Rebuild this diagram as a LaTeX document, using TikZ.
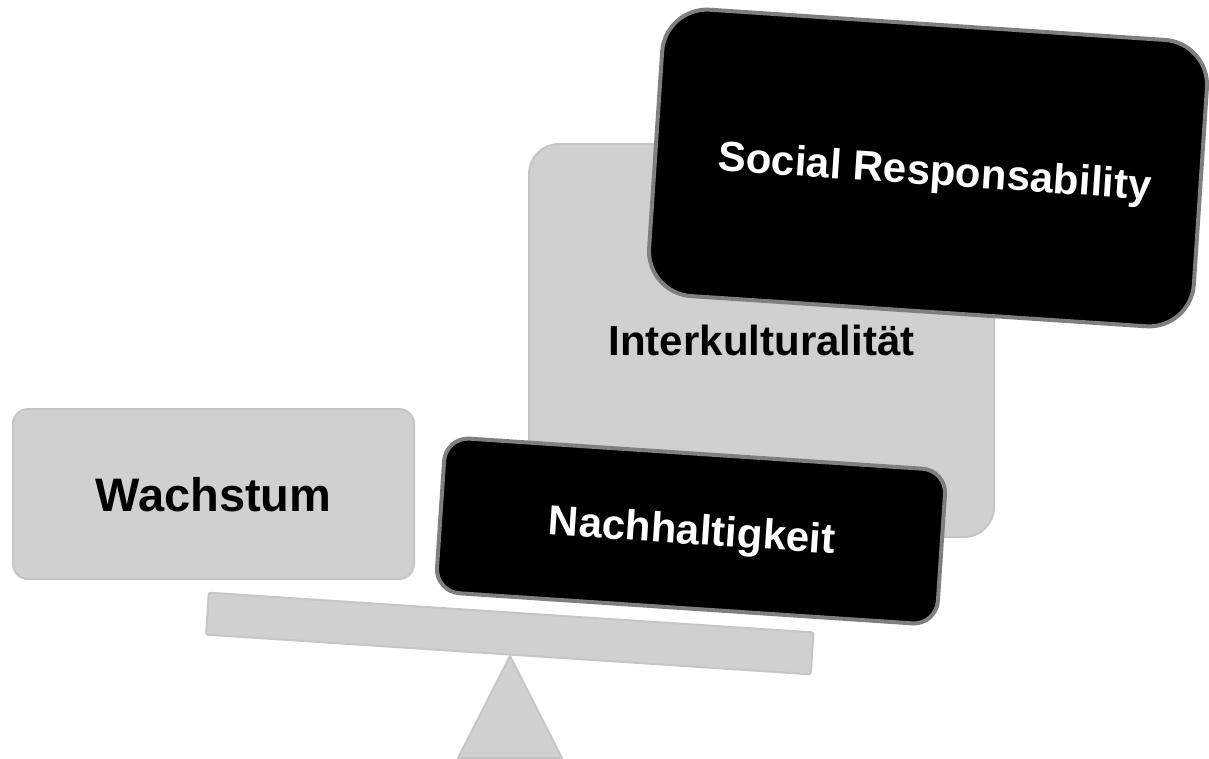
\documentclass[tikz,border=0pt]{standalone}
\usepackage{fontspec}
\setmainfont{Liberation Sans}
\definecolor{boxgray}{HTML}{D0D0D0}
\definecolor{edgegray}{HTML}{C6C6C6}
\definecolor{darkedge}{HTML}{7F7F7F}
\begin{document}
\begin{tikzpicture}[x=1pt,y=-1pt,
  graybox/.style={draw=edgegray, fill=boxgray, line width=2pt, inner sep=0pt},
  blackbox/.style={draw=darkedge, fill=black, line width=4pt, inner sep=0pt, rotate=-3.8},
  darklabel/.style={text=black, font=\bfseries\fontsize{42}{50}\selectfont, text depth=0pt, inner sep=0pt},
  whitelabel/.style={text=white, font=\bfseries\fontsize{42}{50}\selectfont, text depth=0pt, inner sep=0pt, rotate=-3.8}]
\useasboundingbox (0,0) rectangle (1209,758);
% beam and fulcrum
\node[graybox, rounded corners=2pt, minimum width=606pt, minimum height=42pt, rotate=-3.76] (beam) at (509.75,633.5) {};
\coordinate (tip) at (510,656);
\coordinate (bl) at (458,758);
\coordinate (br) at (562,758);
\draw[edgegray, fill=boxgray, line width=2pt, line join=round] (tip) -- (br) -- (bl) -- cycle;
% gray boxes
\node[graybox, rounded corners=15pt, minimum width=401pt, minimum height=170pt, darklabel, font=\bfseries\fontsize{47}{56}\selectfont] (wachstum) at (213.5,494) {Wachstum};
\node[graybox, rounded corners=30pt, minimum width=465pt, minimum height=393pt, darklabel] (inter) at (761.5,340.5) {Interkulturalität};
% black boxes
\node[blackbox, rounded corners=24pt, minimum width=502pt, minimum height=155pt] (nach) at (691,531) {};
\node[whitelabel] (nachtext) at (692,529) {Nachhaltigkeit};
\node[blackbox, rounded corners=45pt, minimum width=546pt, minimum height=287pt] (social) at (928,168) {};
\node[whitelabel] (socialtext) at (935,170) {Social Responsability};
\end{tikzpicture}
\end{document}
